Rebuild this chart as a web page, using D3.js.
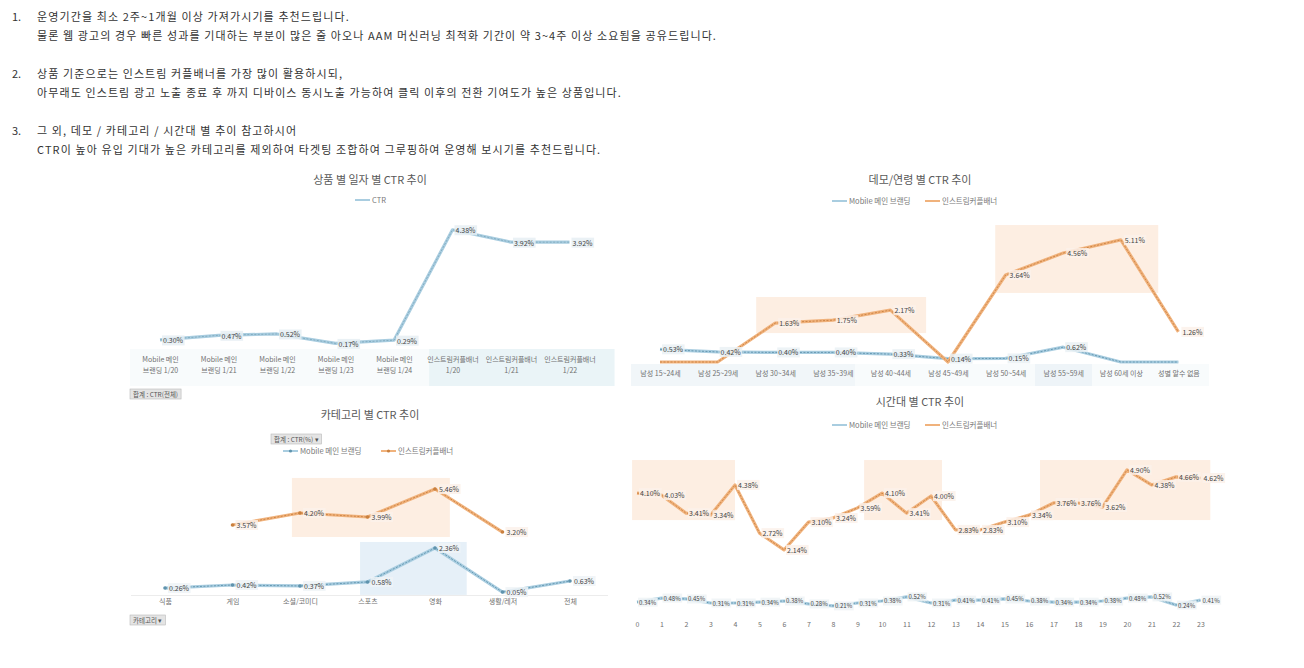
<!DOCTYPE html>
<html>
<head>
<meta charset="utf-8">
<script src="https://cdn.jsdelivr.net/npm/d3@7"></script>
<style>
  body { margin: 0; background: #fff; }
  svg { display: block; }
  text { font-family: "Noto Sans CJK KR", "Noto Sans", sans-serif; }
</style>
</head>
<body>
<svg id="chart" width="1304" height="668"></svg>
<script>
// ---- notes ----
const noteNums = ['1.', '', '2.', '', '3.', ''];
const noteLines = [
  '운영기간을 최소 2주~1개월 이상 가져가시기를 추천드립니다.',
  '물론 웹 광고의 경우 빠른 성과를 기대하는 부분이 많은 줄 아오나 AAM 머신러닝 최적화 기간이 약 3~4주 이상 소요됨을 공유드립니다.',
  '상품 기준으로는 인스트림 커플배너를 가장 많이 활용하시되,',
  '아무래도 인스트림 광고 노출 종료 후 까지 디바이스 동시노출 가능하여 클릭 이후의 전환 기여도가 높은 상품입니다.',
  '그 외, 데모 / 카테고리 / 시간대 별 추이 참고하시어',
  'CTR이 높아 유입 기대가 높은 카테고리를 제외하여 타겟팅 조합하여 그루핑하여 운영해 보시기를 추천드립니다.'
];

const seriesNames = ['Mobile 메인 브랜딩', '인스트림커플배너'];

// ---- chart 1 : 상품 별 일자 별 ----
const productCats = ['Mobile 메인\n브랜딩 1/20', 'Mobile 메인\n브랜딩 1/21', 'Mobile 메인\n브랜딩 1/22',
  'Mobile 메인\n브랜딩 1/23', 'Mobile 메인\n브랜딩 1/24', '인스트림커플배너\n1/20', '인스트림커플배너\n1/21', '인스트림커플배너\n1/22'];
const productCtr = [0.30, 0.47, 0.52, 0.17, 0.29, 4.38, 3.92, 3.92];

// ---- chart 2 : 데모/연령 별 ----
const demoCats = ['남성 15~24세', '남성 25~29세', '남성 30~34세', '남성 35~39세', '남성 40~44세',
  '남성 45~49세', '남성 50~54세', '남성 55~59세', '남성 60세 이상', '성별 알수 없음'];
const demoMobile = [0.53, 0.42, 0.40, 0.40, 0.33, 0.14, 0.15, 0.62, 0, 0];
const demoInstream = [0, 0, 1.63, 1.75, 2.17, 0, 3.64, 4.56, 5.11, 1.26];

// ---- chart 3 : 카테고리 별 ----
const categoryCats = ['식품', '게임', '소셜/코미디', '스포츠', '영화', '생활/레저', '전체'];
const categoryMobile = [0.26, 0.42, 0.37, 0.58, 2.36, 0.05, 0.63];
const categoryInstream = [null, 3.57, 4.20, 3.99, 5.46, 3.20, null];

// ---- chart 4 : 시간대 별 ----
const hourCats = ['0', '1', '2', '3', '4', '5', '6', '7', '8', '9', '10', '11',
  '12', '13', '14', '15', '16', '17', '18', '19', '20', '21', '22', '23'];
const hourMobile = [0.34, 0.48, 0.45, 0.31, 0.31, 0.34, 0.38, 0.28, 0.21, 0.31, 0.38, 0.52,
  0.31, 0.41, 0.41, 0.45, 0.38, 0.34, 0.34, 0.38, 0.48, 0.52, 0.24, 0.41];
const hourInstream = [4.10, 4.03, 3.41, 3.34, 4.38, 2.72, 2.14, 3.10, 3.24, 3.59, 4.10, 3.41,
  4.00, 2.83, 2.83, 3.10, 3.34, 3.76, 3.76, 3.62, 4.90, 4.38, 4.66, 4.62];

const blueLight = '#a9cde0', blueDark = '#5f93ad';
const orangeLight = '#f0b27c', orangeDark = '#c9803f';
const peach = '#fdeee2', iceBlue = '#e6f0f8';
const fmt = v => v.toFixed(2) + '%';

const svg = d3.select('#chart');

// notes
const notesG = svg.append('g').attr('font-size', 11).attr('fill', '#333');
const noteY = [17, 36, 74, 93, 131, 150];
noteLines.forEach((t, i) => {
  if (noteNums[i]) notesG.append('text').attr('x', 12).attr('y', noteY[i] + 4).text(noteNums[i]);
  notesG.append('text').attr('x', 37).attr('y', noteY[i] + 4)
    .attr('letter-spacing', 1.1).text(t);
});

// helpers
function drawSeries(g, x, y, cats, vals, light, dark, markers) {
  const pts = cats.map((c, i) => ({ c, v: vals[i] })).filter(d => d.v != null);
  const line = d3.line().x(d => x(d.c)).y(d => y(d.v));
  g.append('path').datum(pts).attr('d', line).attr('fill', 'none')
    .attr('stroke', light).attr('stroke-width', 3.2).attr('stroke-linejoin', 'round');
  g.append('path').datum(pts).attr('d', line).attr('fill', 'none')
    .attr('stroke', dark).attr('stroke-width', 0.9).attr('stroke-dasharray', '2 1.5');
  if (markers) {
    g.selectAll(null).data(pts).enter().append('circle')
      .attr('cx', d => x(d.c)).attr('cy', d => y(d.v)).attr('r', 1.8)
      .attr('fill', dark);
  }
}

function drawLabels(g, x, y, cats, vals, opts) {
  const o = Object.assign({ dx: 4, dy: 3, size: 7, bg: '#eef3f6', color: '#444' }, opts);
  cats.forEach((c, i) => {
    const v = vals[i];
    if (v == null || (o.skipZero && v === 0)) return;
    const lg = g.append('g');
    const t = lg.append('text')
      .attr('x', x(c) + o.dx).attr('y', y(v) + o.dy)
      .attr('font-size', o.size).attr('fill', o.color)
      .attr('font-family', 'Liberation Serif, serif')
      .text(fmt(v));
    const b = t.node().getBBox();
    lg.insert('rect', 'text').attr('x', b.x - 1).attr('y', b.y).attr('width', b.width + 2)
      .attr('height', b.height).attr('fill', o.bg).attr('opacity', 0.85);
  });
}

function xAt(x, cats, i) {
  return x(cats[0]) + i * x.step();
}

function drawBox(g, x, y, cats, b, fill) {
  g.append('rect')
    .attr('x', xAt(x, cats, b[0])).attr('width', xAt(x, cats, b[1]) - xAt(x, cats, b[0]))
    .attr('y', y(b[3])).attr('height', y(b[2]) - y(b[3]))
    .attr('fill', fill);
}

function drawTitle(cx, cy, text) {
  svg.append('text').attr('x', cx).attr('y', cy + 4).attr('text-anchor', 'middle')
    .attr('font-size', 11).attr('fill', '#595959').text(text);
}

function drawLegend(items, y) {
  items.forEach(it => {
    svg.append('line').attr('x1', it.x).attr('x2', it.x + 15).attr('y1', y).attr('y2', y)
      .attr('stroke', it.color).attr('stroke-width', 2);
    if (it.marker) svg.append('circle').attr('cx', it.x + 7.5).attr('cy', y).attr('r', 1.6).attr('fill', it.marker);
    svg.append('text').attr('x', it.x + 17).attr('y', y + 2.5).attr('font-size', 7.5)
      .attr('fill', '#777').text(it.name);
  });
}

function drawButton(x, y, text) {
  const g = svg.append('g');
  const t = g.append('text').attr('x', x + 3).attr('y', y + 7.5).attr('font-size', 6.5)
    .attr('fill', '#555').text(text);
  const b = t.node().getBBox();
  g.insert('rect', 'text').attr('x', x).attr('y', y).attr('width', b.width + 6).attr('height', 10)
    .attr('fill', '#e4e4e4').attr('stroke', '#b8b8b8').attr('stroke-width', 0.6);
}

function drawAxis(x, cats, top, size) {
  const ax = svg.append('g').attr('transform', `translate(0,${top})`)
    .call(d3.axisBottom(x).tickSize(0).tickPadding(0));
  ax.select('.domain').remove();
  ax.selectAll('text').attr('font-size', size).attr('fill', '#707070')
    .attr('font-family', '"Noto Sans CJK KR", sans-serif')
    .each(function (d) {
      const parts = d.split('\n');
      if (parts.length > 1) {
        const t = d3.select(this).text(null);
        parts.forEach((p, k) => t.append('tspan').attr('x', 0).attr('dy', k === 0 ? '0.71em' : '1.6em').text(p));
      }
    });
}

// ================= chart 1 =================
{
  const x = d3.scalePoint().domain(productCats).range([160, 569.5]);
  const y = d3.scaleLinear().domain([0, 5]).range([348, 213]);
  const g = svg.append('g');
  g.append('rect').attr('x', 130).attr('y', 349).attr('width', 483).attr('height', 37).attr('fill', '#f8fbfc');
  g.append('rect').attr('x', xAt(x, productCats, 4.6)).attr('y', 349)
    .attr('width', xAt(x, productCats, 7.77) - xAt(x, productCats, 4.6)).attr('height', 37).attr('fill', '#eaf4f7');
  drawTitle(370, 180, '상품 별 일자 별 CTR 추이');
  drawLegend([{ x: 355, color: blueLight, name: 'CTR' }], 200);
  drawSeries(g, x, y, productCats, productCtr, blueLight, '#7ea9bd', false);
  drawLabels(g, x, y, productCats, productCtr, { dx: 3, dy: 3.5, bg: '#e6eff3' });
  drawAxis(x, productCats, 357, 7);
  drawButton(130, 389, '합계 : CTR(전체)');
}

// ================= chart 2 =================
{
  const x = d3.scalePoint().domain(demoCats).range([660, 1178.4]);
  const y = d3.scaleLinear().domain([0, 6]).range([362, 362 - 6 * 23.9]);
  const g = svg.append('g');
  g.append('rect').attr('x', 631).attr('y', 364).attr('width', 578).attr('height', 22).attr('fill', '#f8fbfc');
  g.append('rect').attr('x', 631).attr('y', 364).attr('width', 224).attr('height', 22).attr('fill', '#f1f6f9');
  g.append('rect').attr('x', 1035).attr('y', 364).attr('width', 57).attr('height', 22).attr('fill', '#eef4f8');
  drawBox(g, x, y, demoCats, [1.67, 4.62, 1.21, 2.72], peach);
  drawBox(g, x, y, demoCats, [5.82, 8.65, 2.89, 5.73], peach);
  drawTitle(920, 180, '데모/연령 별 CTR 추이');
  drawLegend([{ x: 832, color: blueLight, name: seriesNames[0] },
              { x: 925, color: orangeLight, name: seriesNames[1] }], 201);
  drawSeries(g, x, y, demoCats, demoMobile, blueLight, blueDark, false);
  drawSeries(g, x, y, demoCats, demoInstream, orangeLight, orangeDark, false);
  drawLabels(g, x, y, demoCats, demoMobile, { dx: 3, dy: 3, skipZero: true, bg: '#eaf1f5' });
  drawLabels(g, x, y, demoCats, demoInstream, { dx: 4, dy: 3, skipZero: true, bg: '#fbf1ea' });
  drawAxis(x, demoCats, 371, 7);
}

// ================= chart 3 =================
{
  const x = d3.scalePoint().domain(categoryCats).range([165, 570]);
  const y = d3.scaleLinear().domain([0, 7]).range([593, 593 - 7 * 19.05]);
  const g = svg.append('g');
  drawBox(g, x, y, categoryCats, [1.88, 4.22, 2.94, 6.04], peach);
  drawBox(g, x, y, categoryCats, [2.89, 4.47, -0.1, 2.68], iceBlue);
  g.append('line').attr('x1', 131).attr('x2', 608).attr('y1', 595.5).attr('y2', 595.5)
    .attr('stroke', '#ececec').attr('stroke-width', 1);
  drawTitle(370, 415, '카테고리 별 CTR 추이');
  drawButton(271, 434, '합계 : CTR(%) ▾');
  drawLegend([{ x: 283, color: blueLight, marker: blueDark, name: seriesNames[0] },
              { x: 381, color: orangeLight, marker: orangeDark, name: seriesNames[1] }], 451);
  drawSeries(g, x, y, categoryCats, categoryMobile, blueLight, blueDark, true);
  drawSeries(g, x, y, categoryCats, categoryInstream, orangeLight, orangeDark, true);
  drawLabels(g, x, y, categoryCats, categoryMobile, { dx: 4, dy: 3, bg: '#eef3f7' });
  drawLabels(g, x, y, categoryCats, categoryInstream, { dx: 4, dy: 3, bg: '#fbf1ea' });
  drawAxis(x, categoryCats, 599, 7);
  drawButton(130, 615, '카테고리 ▾');
}

// ================= chart 4 =================
{
  const x = d3.scalePoint().domain(hourCats).range([637, 1200.5]);
  const y = d3.scaleLinear().domain([0, 6]).range([612, 612 - 6 * 29]);
  const g = svg.append('g');
  drawBox(g, x, y, hourCats, [-0.2, 4.0, 3.17, 5.24], peach);
  drawBox(g, x, y, hourCats, [9.27, 12.45, 3.17, 5.24], peach);
  drawBox(g, x, y, hourCats, [16.45, 23.4, 3.17, 5.24], peach);
  drawTitle(920, 402, '시간대 별 CTR 추이');
  drawLegend([{ x: 832, color: blueLight, name: seriesNames[0] },
              { x: 925, color: orangeLight, name: seriesNames[1] }], 425);
  drawSeries(g, x, y, hourCats, hourMobile, blueLight, blueDark, false);
  drawSeries(g, x, y, hourCats, hourInstream, orangeLight, orangeDark, false);
  drawLabels(g, x, y, hourCats, hourMobile, { dx: 2, dy: 2.5, size: 6, bg: '#eef3f6' });
  drawLabels(g, x, y, hourCats, hourInstream, { dx: 3, dy: 3, size: 7, bg: '#fbf1ea' });
  drawAxis(x, hourCats, 622, 7);
}
</script>
</body>
</html>
